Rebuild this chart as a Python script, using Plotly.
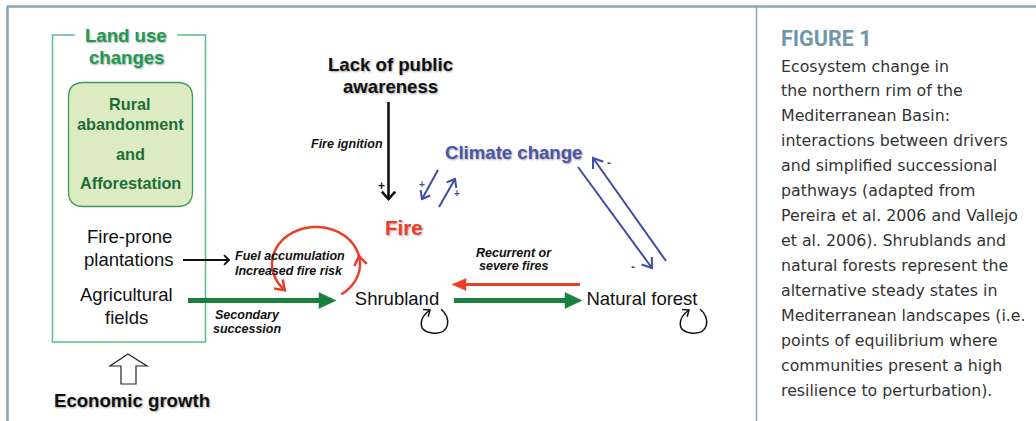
import numpy as np
import plotly.graph_objects as go

# ---------------- content ----------------
driver_titles = ["Land use", "changes"]
box_lines = ["Rural", "abandonment", "and", "Afforestation"]
landuse_items = ["Fire-prone", "plantations", "Agricultural", "fields"]
awareness_lines = ["Lack of public", "awareness"]
climate_label = "Climate change"
fire_label = "Fire"
economic_label = "Economic growth"
state_labels = ["Shrubland", "Natural forest"]
process_labels = {
    "fuel": ["Fuel accumulation", "Increased fire risk"],
    "succession": ["Secondary", "succession"],
    "fires": ["Recurrent or", "severe fires"],
    "ignition": ["Fire ignition"],
}
sign_plus = "+"
sign_minus = "-"
caption_title = "FIGURE 1"
caption_lines = [
    "Ecosystem change in",
    "the northern rim of the",
    "Mediterranean Basin:",
    "interactions between drivers",
    "and simplified successional",
    "pathways (adapted from",
    "Pereira et al. 2006 and Vallejo",
    "et al. 2006). Shrublands and",
    "natural forests represent the",
    "alternative steady states in",
    "Mediterranean landscapes (i.e.",
    "points of equilibrium where",
    "communities present a high",
    "resilience to perturbation).",
]

# ---------------- layout helpers ----------------
W, H = 1036, 421
FONT = "Liberation Sans, Arial, sans-serif"
GREEN_T = "#1f9a55"
GREEN_D = "#1d6e3a"
GREEN_A = "#1a8040"
RED = "#ea3e2a"
BLUE = "#3f4ca3"
BLUE_T = "#4a55aa"
FRAME = "#89a5b7"
SHADOW = "1px 1px 2px rgba(0,0,0,0.35)"

shapes = []
annots = []


def path_shape(d, color, width, fill=None):
    s = dict(type="path", path=d, xref="x", yref="y",
             line=dict(color=color, width=width))
    if fill:
        s["fillcolor"] = fill
    shapes.append(s)


def seg(x0, y0, x1, y1, color, width):
    shapes.append(dict(type="line", x0=x0, y0=y0, x1=x1, y1=y1, xref="x", yref="y",
                       line=dict(color=color, width=width)))


def open_head(tx, ty, dx, dy, L, ang, color, width):
    n = np.hypot(dx, dy)
    ux, uy = dx / n, dy / n
    pts = []
    for s in (1, -1):
        a = np.deg2rad(ang) * s
        rx = -ux * np.cos(a) + uy * np.sin(a)
        ry = -ux * np.sin(a) - uy * np.cos(a)
        pts.append((tx + L * rx, ty + L * ry))
    d = f"M{pts[0][0]:.2f},{pts[0][1]:.2f} L{tx:.2f},{ty:.2f} L{pts[1][0]:.2f},{pts[1][1]:.2f}"
    path_shape(d, color, width)


def filled_head(tx, ty, dx, dy, L, hw, color):
    n = np.hypot(dx, dy)
    ux, uy = dx / n, dy / n
    bx, by = tx - ux * L, ty - uy * L
    px, py = -uy, ux
    d = (f"M{tx:.2f},{ty:.2f} L{bx + px * hw:.2f},{by + py * hw:.2f} "
         f"L{bx - px * hw:.2f},{by - py * hw:.2f} Z")
    path_shape(d, color, 0.5, fill=color)


def arrow(x0, y0, x1, y1, color, width, style="open", L=10, ang=35, hw=7):
    dx, dy = x1 - x0, y1 - y0
    if style == "open":
        seg(x0, y0, x1, y1, color, width)
        open_head(x1, y1, dx, dy, L, ang, color, width)
    else:
        n = np.hypot(dx, dy)
        seg(x0, y0, x1 - dx / n * (L - 1), y1 - dy / n * (L - 1), color, width)
        filled_head(x1, y1, dx, dy, L, hw, color)


def text(x, y, s, size, color="#111", bold=False, italic=False, anchor="center",
         family=FONT, shadow=None):
    t = s
    if italic:
        t = f"<i>{t}</i>"
    if bold:
        t = f"<b>{t}</b>"
    f = dict(family=family, size=size, color=color)
    if shadow:
        f["shadow"] = shadow
    annots.append(dict(x=x, y=y, xref="x", yref="y", text=t, showarrow=False,
                       xanchor=anchor, yanchor="middle", font=f))


# ---------------- frame ----------------
seg(7, 6.5, W, 6.5, FRAME, 2.5)
seg(7.5, 6, 7.5, H, FRAME, 2.5)
seg(756.5, 6, 756.5, H, FRAME, 1.5)

# ---------------- land use box ----------------
path_shape("M75,35 L52.5,35 L52.5,342 L205.5,342 L205.5,35 L177,35", "#5cbf88", 1.5)
text(126, 35, driver_titles[0], 18.6, GREEN_T, bold=True, shadow=SHADOW)
text(126, 57, driver_titles[1], 18.6, GREEN_T, bold=True, shadow=SHADOW)

r = 15
x0, y0, x1, y1 = 68.5, 82.5, 192.5, 206.5
rb = (f"M{x0 + r},{y0} L{x1 - r},{y0} Q{x1},{y0} {x1},{y0 + r} L{x1},{y1 - r} "
      f"Q{x1},{y1} {x1 - r},{y1} L{x0 + r},{y1} Q{x0},{y1} {x0},{y1 - r} "
      f"L{x0},{y0 + r} Q{x0},{y0} {x0 + r},{y0} Z")
path_shape(rb, "#3e9a5c", 1.3, fill="#dcebc1")
for yy, s in zip([104, 124, 153.5, 183], box_lines):
    text(130, yy, s, 16.3, GREEN_D, bold=True)

for (xx, yy), s in zip([(129, 236), (128, 259), (126, 294), (126, 317)], landuse_items):
    text(xx, yy, s, 18.5, "#111")

# economic growth hollow arrow
eg = "M128,354 L147,366 L136,366 L136,384 L121,384 L121,366 L110,366 Z"
path_shape(eg, "#222", 1.2, fill="white")
text(132, 400, economic_label, 18.6, "#111", bold=True, shadow=SHADOW)

# ---------------- arrows & process labels ----------------
arrow(183, 260, 229, 260, "#111", 1.8, "open", L=7, ang=45)
text(290, 256, process_labels["fuel"][0], 12.5, "#111", bold=True, italic=True)
text(289, 271, process_labels["fuel"][1], 12.5, "#111", bold=True, italic=True)

arrow(188, 300.5, 336, 300.5, GREEN_A, 5, "filled", L=17, hw=8)
text(247, 315, process_labels["succession"][0], 12.5, "#111", bold=True, italic=True)
text(247, 329, process_labels["succession"][1], 12.5, "#111", bold=True, italic=True)

# red feedback loop (fuel accumulation)
cx, cy, rx, ry = 316, 264, 44, 37
th = np.deg2rad(np.linspace(55, -225, 80))
xs = cx + rx * np.cos(th)
ys = cy + ry * np.sin(th)
d = "M" + " L".join(f"{a:.2f},{b:.2f}" for a, b in zip(xs, ys))
path_shape(d, RED, 2.5)
open_head(xs[-1], ys[-1], xs[-1] - xs[-3], ys[-1] - ys[-3], 11, 35, RED, 2.5)
k = np.argmin(np.abs(th - np.deg2rad(-12)))
open_head(xs[k], ys[k], xs[k] - xs[k - 2], ys[k] - ys[k - 2], 11, 35, RED, 2.5)

# fire ignition
arrow(388.5, 102, 388.5, 199, "#111", 2.6, "open", L=10, ang=42)
text(381, 186, sign_plus, 12, "#111", bold=True)
text(347, 144, process_labels["ignition"][0], 12.5, "#111", bold=True, italic=True)
for yy, s in zip([64, 86], awareness_lines):
    text(390, yy, s, 18.6, "#111", bold=True, shadow=SHADOW)

text(404, 227, fire_label, 20.5, RED, bold=True, shadow=SHADOW)
text(513, 152, climate_label, 18.6, BLUE_T, bold=True, shadow=SHADOW)

# fire <-> climate
arrow(438, 170, 422, 199, BLUE, 2, "open", L=9, ang=38)
arrow(439, 207, 455, 179, BLUE, 2, "open", L=9, ang=38)
text(422, 184, sign_plus, 10, BLUE, bold=True)
text(457, 193, sign_plus, 10, BLUE, bold=True)

# climate <-> natural forest
arrow(578, 167, 652, 268, BLUE, 2, "open", L=11, ang=35)
arrow(666, 261, 593, 158, BLUE, 2, "open", L=11, ang=35)
text(609, 163, sign_minus, 12, BLUE, bold=True)
text(633, 267, sign_minus, 12, BLUE, bold=True)

# shrubland <-> forest
arrow(454, 300.5, 582, 300.5, GREEN_A, 5, "filled", L=17, hw=8)
arrow(580, 284.5, 452, 284.5, RED, 3, "filled", L=14, hw=6)
text(514, 253, process_labels["fires"][0], 12.5, "#111", bold=True, italic=True)
text(514, 266, process_labels["fires"][1], 12.5, "#111", bold=True, italic=True)


# self loops
def self_loop(ox):
    p0 = (ox + 13, 309)
    c1 = (ox + 24, 318)
    c2 = (ox + 22, 335)
    p1 = (ox + 4, 333)
    c3 = (ox - 12, 331)
    c4 = (ox - 8, 317)
    p2 = (ox + 2, 310)
    d = (f"M{p0[0]},{p0[1]} C{c1[0]},{c1[1]} {c2[0]},{c2[1]} {p1[0]},{p1[1]} "
         f"C{c3[0]},{c3[1]} {c4[0]},{c4[1]} {p2[0]},{p2[1]}")
    path_shape(d, "#111", 1.5)
    open_head(p2[0], p2[1], p2[0] - c4[0], p2[1] - c4[1], 7, 40, "#111", 1.5)


self_loop(428)
self_loop(687)

# ---------------- caption ----------------
text(779, 38, caption_title, 21.5, "#7096ab", bold=True, anchor="left", family="Roboto, sans-serif")
for i, s in enumerate(caption_lines):
    text(779, 66 + 24.95 * i, s, 15.8, "#333333", anchor="left", family="DejaVu Sans, sans-serif")

# ---------------- figure ----------------
fig = go.Figure()
fig.add_trace(go.Scatter(
    x=[397, 642], y=[300, 300], mode="text", text=state_labels,
    textfont=dict(family=FONT, size=18.5, color="#111"), hoverinfo="skip",
    showlegend=False))
fig.update_layout(
    width=W, height=H, margin=dict(l=0, r=0, t=0, b=0),
    paper_bgcolor="white", plot_bgcolor="white",
    xaxis=dict(range=[0, W], visible=False, fixedrange=True),
    yaxis=dict(range=[H, 0], visible=False, fixedrange=True),
    shapes=shapes, annotations=annots, showlegend=False,
)
fig.write_html("out.html", config={"displayModeBar": False},
               post_script="document.body.style.margin='0px';")
